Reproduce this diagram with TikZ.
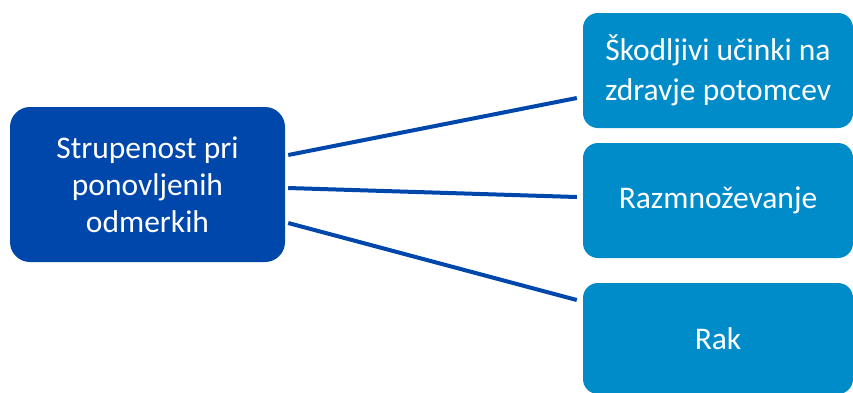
\documentclass[tikz,border=0pt]{standalone}
\usepackage{fontspec}
\setmainfont{Carlito}
\definecolor{darkbox}{RGB}{0,71,171}
\definecolor{lightbox}{RGB}{0,139,201}
\tikzset{
  mainbox/.style={fill=darkbox, text=white, align=center, rounded corners=20pt,
    minimum width=275pt, minimum height=155pt, inner sep=0pt,
    font=\fontsize{31.5}{37}\selectfont},
  subbox/.style={fill=lightbox, text=white, align=center, rounded corners=15pt,
    minimum width=270pt, minimum height=115pt, inner sep=0pt,
    font=\fontsize{31.5}{40}\selectfont},
  link/.style={draw=darkbox, line width=4pt}
}

\begin{document}
\begin{tikzpicture}[x=1pt,y=1pt]
  \useasboundingbox (0,0) rectangle (853,-392);
  \clip (0,0) rectangle (853,-392);
  \node[mainbox] (expo) at (147.5,-184.5) {Strupenost pri\\ponovljenih\\odmerkih};
  \node[subbox] (offspring) at (718,-70.5) {Škodljivi učinki na\\zdravje potomcev};
  \node[subbox] (repro) at (718,-200.5) {Razmnoževanje};
  \node[subbox, minimum height=111pt] (cancer) at (718,-338.5) {Rak};
  % links from the main box
  \draw[link] ([shift={(3,29.5)}]expo.east) -- ([shift={(-6,-27.5)}]offspring.west);
  \draw[link] ([shift={(3,-3.5)}]expo.east) -- ([shift={(-6,3.5)}]repro.west);
  \draw[link] ([shift={(3,-38.5)}]expo.east) -- ([shift={(-6,38.5)}]cancer.west);
\end{tikzpicture}
\end{document}
